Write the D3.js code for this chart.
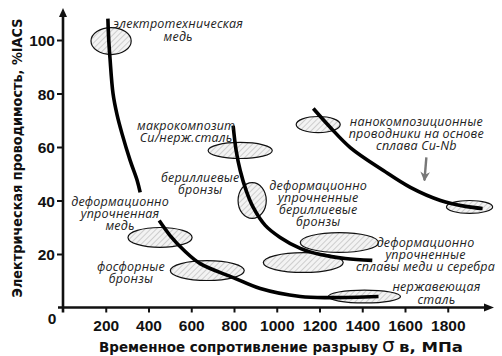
<!DOCTYPE html>
<html><head><meta charset="utf-8">
<script src="https://cdn.jsdelivr.net/npm/d3@7"></script>
<style>
html,body{margin:0;padding:0;background:#fff;}
svg{display:block;}
</style>
</head><body>
<svg id="chart" width="502" height="356"></svg>
<script>
// ---- data (MPa, %IACS) ----
const xTicks = [200, 400, 600, 800, 1000, 1200, 1400, 1600, 1800];
const yTicks = [20, 40, 60, 80, 100];
const xTitle = "Временное сопротивление разрыву";
const xTitleSigma = "σ";
const xTitleUnit = "в, МПа";
const yTitle = "Электрическая проводимость, %IACS";

// trend curves
const curveCopper = [[210,108],[214,100],[220,93],[234,80],[253,72],[276,65],[314,55],[347,47.5],[361,43]];
const curveDeformedCopper = [[450,32.5],[501,26.9],[567,21.3],[642,16.4],[796,11.2],[923,7.1],[1110,4.1],[1251,3.7],[1476,4.1]];
const curveMacro = [[796,68],[810,58.7],[829,51.2],[857,43.7],[890,37.4],[946,30.7],[1016,26.2],[1110,22.1],[1204,19.8],[1321,18.3],[1447,17.6]];
const curveNano = [[1171,74.4],[1251,67.3],[1344,59.8],[1499,51.2],[1625,44.9],[1766,40],[1883,37.8],[1963,37]];
const curves = [curveCopper, curveDeformedCopper, curveMacro, curveNano];

// material regions: centre (MPa, %IACS), half-widths (MPa, %IACS)
const regionCx = [225, 829, 885, 1194, 1902, 454, 675, 1293, 1124, 1410];
const regionCy = [99.6, 58.7, 40, 68.4, 37.6, 26.2, 13.8, 24.3, 16.8, 4.1];
const regionRx = [94, 150, 66, 103, 108, 150, 173, 183, 187, 169];
const regionRy = [5.05, 3.0, 6.7, 3.0, 2.4, 3.7, 3.7, 3.7, 3.7, 2.4];

// annotations: text lines and anchor (MPa, %IACS of first baseline)
const noteLines = [
  ["электротехническая", "медь"],
  ["макрокомпозит", "Cu/нерж.сталь"],
  ["бериллиевые", "бронзы"],
  ["деформационно", "упрочненные", "бериллиевые", "бронзы"],
  ["деформационно", "упрочненная", "медь"],
  ["фосфорные", "бронзы"],
  ["деформационно", "упрочненные", "сплавы меди и серебра"],
  ["нержавеющая", "сталь"],
  ["нанокомпозиционные", "проводники на основе", "сплава Cu-Nb"]
];
const noteX = [539, 576, 642, 1194, 267, 318, 1696, 1747, 1653];
const noteY = [104.3, 66.5, 47.1, 44.1, 38.1, 13.8, 22.8, 6.0, 68];
const pointerFrom = [1700, 56.1];
const pointerTo = [1691, 47.5];

// ---- layout ----
const svg = d3.select("#chart");
const x = d3.scaleLinear().domain([0, 2000]).range([63, 490.5]);
const y = d3.scaleLinear().domain([0, 100]).range([307.5, 40]);

const defs = svg.append("defs");
const pat = defs.append("pattern").attr("id", "hatch")
  .attr("patternUnits", "userSpaceOnUse").attr("width", 4).attr("height", 4)
  .attr("patternTransform", "rotate(45)");
pat.append("rect").attr("width", 4).attr("height", 4).attr("fill", "#f3f3f3");
pat.append("line").attr("x1", 0).attr("y1", 0).attr("x2", 0).attr("y2", 4)
  .attr("stroke", "#a8a8a8").attr("stroke-width", 1);

defs.append("marker").attr("id", "grayhead").attr("viewBox", "0 0 10 10")
  .attr("refX", 9).attr("refY", 5).attr("markerWidth", 4).attr("markerHeight", 4)
  .attr("orient", "auto").attr("markerUnits", "strokeWidth")
  .append("path").attr("d", "M0,0 L10,5 L0,10 L3,5 Z").attr("fill", "#777");

// regions
const kx = x(1) - x(0), ky = y(0) - y(1);
svg.append("g").selectAll("ellipse").data(regionCx).join("ellipse")
  .attr("cx", (d) => x(d))
  .attr("cy", (d, i) => y(regionCy[i]))
  .attr("rx", (d, i) => regionRx[i] * kx)
  .attr("ry", (d, i) => regionRy[i] * ky)
  .attr("fill", "url(#hatch)")
  .attr("stroke", "#111").attr("stroke-width", 1.2);

// curves
const line = d3.line().x(d => x(d[0])).y(d => y(d[1])).curve(d3.curveCatmullRom.alpha(0.5));
svg.append("g").selectAll("path").data(curves).join("path")
  .attr("d", line).attr("fill", "none").attr("stroke", "#000")
  .attr("stroke-width", 3.6);

// axes
const axisG = svg.append("g");
const xAxis = d3.axisBottom(x).tickValues(xTicks).tickFormat(d3.format("d")).tickSize(5).tickPadding(5);
const gx = axisG.append("g").attr("transform", `translate(0,${y(0)})`).call(xAxis);
const yAxis = d3.axisLeft(y).tickValues(yTicks).tickFormat(d3.format("d")).tickSize(6).tickPadding(2);
const gy = axisG.append("g").attr("transform", `translate(${x(0)},0)`).call(yAxis);
[gx, gy].forEach(g => {
  g.select(".domain").remove();
  g.selectAll(".tick line").attr("stroke", "#111").attr("stroke-width", 2);
  g.selectAll(".tick text").attr("fill", "#111")
    .style("font-family", "'Liberation Sans', Arial, sans-serif")
    .style("font-weight", "bold").style("font-size", "15.5px");
});
gx.selectAll(".tick text").attr("dy", "0.9em");
gy.selectAll(".tick text").attr("dy", "0.36em");

// axis lines with arrows
axisG.append("line").attr("x1", x(0)).attr("x2", x(0)).attr("y1", y(0) + 5).attr("y2", 14)
  .attr("stroke", "#111").attr("stroke-width", 2.6);
axisG.append("line").attr("x1", x(0) - 5).attr("x2", 486).attr("y1", y(0)).attr("y2", y(0))
  .attr("stroke", "#111").attr("stroke-width", 2.6);
axisG.append("path").attr("d", `M${x(0)},8 L${x(0) - 4},17 L${x(0) + 4},17 Z`).attr("fill", "#111");
axisG.append("path").attr("d", `M494,${y(0)} L484,${y(0) - 4} L484,${y(0) + 4} Z`).attr("fill", "#111");
axisG.append("text").attr("x", x(0) - 11).attr("y", y(0) + 16).attr("text-anchor", "middle")
  .style("font-family", "'Liberation Sans', Arial, sans-serif").style("font-weight", "bold")
  .style("font-size", "15.5px").attr("fill", "#111").text("0");

// titles
svg.append("text")
  .attr("transform", `translate(22,158) rotate(-90)`)
  .attr("text-anchor", "middle")
  .style("font-family", "'DejaVu Sans', sans-serif").style("font-weight", "bold")
  .style("font-size", "13.5px").attr("fill", "#111")
  .attr("textLength", 279).attr("lengthAdjust", "spacingAndGlyphs")
  .text(yTitle);

const titleFont = (sel) => sel.style("font-family", "'DejaVu Sans', sans-serif")
  .style("font-weight", "bold").style("font-size", "14.5px").attr("fill", "#111");
svg.append("text").attr("x", 99).attr("y", 352).call(titleFont)
  .attr("textLength", 279).attr("lengthAdjust", "spacingAndGlyphs").text(xTitle);
svg.append("text").attr("x", 382).attr("y", 352).call(titleFont)
  .style("font-size", "20px").style("font-weight", "normal").text(xTitleSigma);
svg.append("text").attr("x", 399).attr("y", 352).call(titleFont)
  .attr("textLength", 64).attr("lengthAdjust", "spacingAndGlyphs").text(xTitleUnit);

// annotations
const notes = svg.append("g")
  .style("font-family", "'Open Sans', 'DejaVu Sans', sans-serif")
  .style("font-style", "italic").style("font-size", "12.5px")
  .style("letter-spacing", "0.2px").attr("fill", "#222")
  .attr("text-anchor", "middle");
noteLines.forEach((lines, i) => {
  const t = notes.append("text").attr("x", x(noteX[i])).attr("y", y(noteY[i]));
  lines.forEach((s, j) => {
    t.append("tspan").attr("x", x(noteX[i])).attr("dy", j === 0 ? 0 : 12.2).text(s);
  });
});

// pointer arrow
svg.append("line").attr("x1", x(pointerFrom[0])).attr("y1", y(pointerFrom[1]))
  .attr("x2", x(pointerTo[0])).attr("y2", y(pointerTo[1]))
  .attr("stroke", "#777").attr("stroke-width", 2.4).attr("marker-end", "url(#grayhead)");
</script>
</body></html>
